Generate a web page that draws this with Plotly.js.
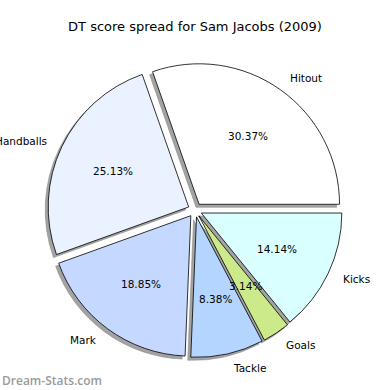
<!DOCTYPE html>
<html>
<head>
<meta charset="utf-8">
<script src="https://cdn.plot.ly/plotly-3.0.1.min.js"></script>
<style>html,body{margin:0;padding:0;background:#fff;}#chart{width:390px;height:390px;}</style>
</head>
<body>
<div id="chart"></div>
<script>
// Data
var categories = ["Hitout", "Handballs", "Mark", "Tackle", "Goals", "Kicks"];
var points = [58, 48, 36, 16, 6, 27];
var sliceColors = ["#ffffff", "#eaf1ff", "#c5d8ff", "#b3d5ff", "#cdea8a", "#d9ffff"];
var titleText = "DT score spread for Sam Jacobs (2009)";
var watermark = "Dream-Stats.com";

// Layout geometry
var W = 390, H = 390;
var cxPx = 195, cyPx = 210, half = 147.5;
var pull = 0.05;
var rPx = half / (1 + pull);
var shadowDx = -3, shadowDy = 3;

var total = points.reduce(function(a, b) { return a + b; }, 0);
var rotation = 90 - 360 * points[0] / total;

function dom(dx, dy) {
  return {
    x: [(cxPx + dx - half) / W, (cxPx + dx + half) / W],
    y: [1 - (cyPx + dy + half) / H, 1 - (cyPx + dy - half) / H]
  };
}

var shadowColors = points.map(function() { return "#a3a3a3"; });

var shadow = {
  type: "pie",
  values: points,
  labels: categories,
  sort: false,
  direction: "counterclockwise",
  rotation: rotation,
  pull: points.map(function() { return pull; }),
  marker: { colors: shadowColors, line: { color: "#8a8a8a", width: 0.6 } },
  textinfo: "none",
  hoverinfo: "skip",
  showlegend: false,
  domain: dom(shadowDx, shadowDy)
};

var pie = {
  type: "pie",
  values: points,
  labels: categories,
  sort: false,
  direction: "counterclockwise",
  rotation: rotation,
  pull: points.map(function() { return pull; }),
  marker: { colors: sliceColors, line: { color: "#000000", width: 0.8 } },
  textinfo: "none",
  showlegend: false,
  domain: dom(0, 0)
};

var annotations = [];
var cum = 0;
var font = { family: "DejaVu Sans", size: 10.5, color: "#000000" };
for (var i = 0; i < points.length; i++) {
  var mid = 2 * Math.PI * (cum + points[i] / 2) / total;
  cum += points[i];
  var c = Math.cos(mid), s = Math.sin(mid);
  // label
  var lx = cxPx + (1.1 + pull) * rPx * c, ly = cyPx - (1.1 + pull) * rPx * s;
  annotations.push({
    xref: "paper", yref: "paper", x: lx / W, y: 1 - ly / H,
    text: categories[i], showarrow: false,
    xanchor: c >= 0 ? "left" : "right", yanchor: "middle",
    font: font
  });
  // percent
  var px = cxPx + (0.6 + pull) * rPx * c, py = cyPx - (0.6 + pull) * rPx * s;
  annotations.push({
    xref: "paper", yref: "paper", x: px / W, y: 1 - py / H,
    text: (100 * points[i] / total).toFixed(2) + "%", showarrow: false,
    xanchor: "center", yanchor: "middle",
    font: font
  });
}
annotations.push({
  xref: "paper", yref: "paper", x: 0, y: 1 - 380 / H,
  text: watermark, showarrow: false,
  xanchor: "left", yanchor: "middle",
  font: { family: "Open Sans", size: 12, weight: 600, color: "#9a9a9a" }
});

var layout = {
  width: W, height: H,
  margin: { l: 0, r: 0, t: 0, b: 0 },
  paper_bgcolor: "#ffffff",
  title: {
    text: titleText,
    x: 0.5, xanchor: "center",
    y: 1 - 26 / H, yref: "container", yanchor: "middle",
    font: { family: "DejaVu Sans", size: 13, color: "#000000" }
  },
  annotations: annotations,
  showlegend: false
};

Plotly.newPlot("chart", [shadow, pie], layout, { staticPlot: true });
</script>
</body>
</html>
